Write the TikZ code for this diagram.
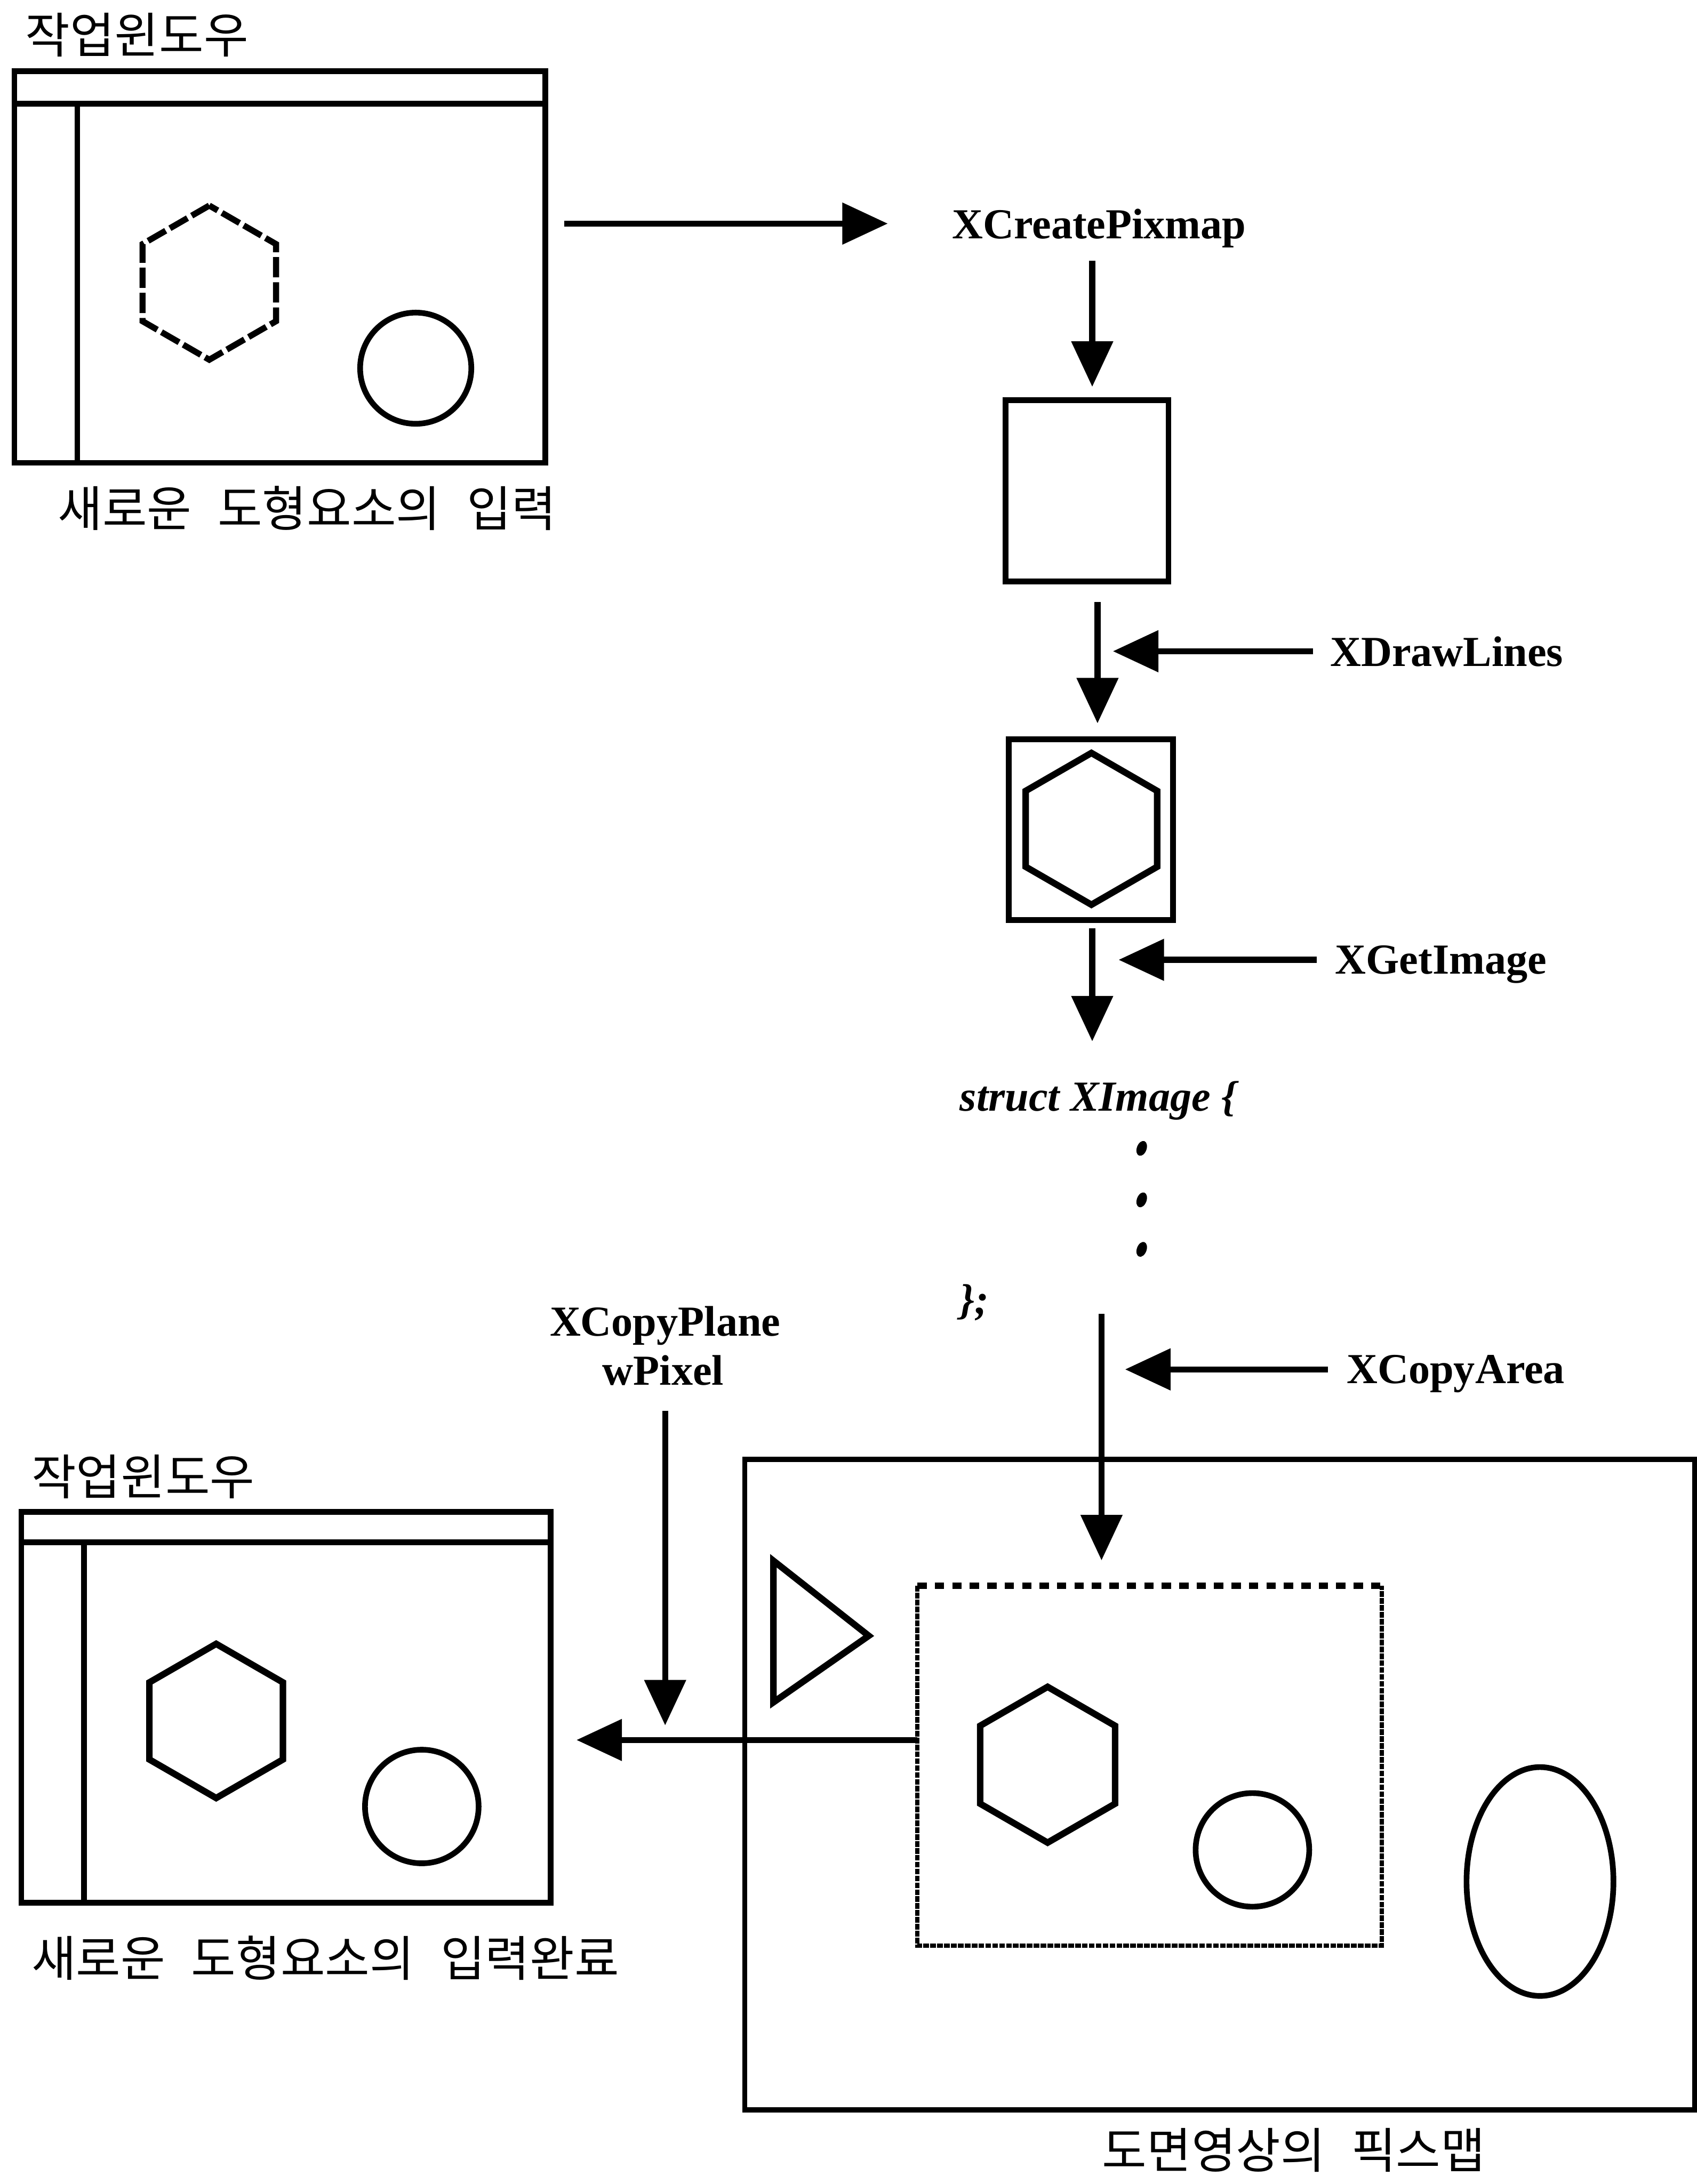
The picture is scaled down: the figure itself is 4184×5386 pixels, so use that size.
\documentclass[tikz,border=0pt]{standalone}
\usepackage{fontspec}
\setmainfont{Liberation Serif}
\newfontfamily\krfont[WordSpace=2.4]{Noto Sans CJK KR}
\usetikzlibrary{arrows.meta,shapes.geometric}

\newcommand{\fnfont}{\bfseries\fontsize{30}{36}\selectfont}
\newcommand{\itfont}{\bfseries\itshape\fontsize{30}{36}\selectfont}

\tikzset{
  arr/.style={-{Triangle[length=1.12cm,width=1cm]}, line width=0.15cm},
  win/.style={draw, rectangle, line width=0.14cm, inner sep=0pt},
  hexa/.style={draw, regular polygon, regular polygon sides=6, shape border rotate=30,
    minimum size=3.8cm, inner sep=0pt, line width=0.16cm},
  ring/.style={draw, circle, line width=0.14cm, inner sep=0pt},
  fn/.style={inner sep=0pt, text depth=0pt, font=\fnfont},
  kr/.style={inner sep=0pt, font=\krfont\fontsize{34}{40}\selectfont},
  dotmark/.style={fill, ellipse, rotate=-20, inner sep=0pt, minimum width=0.24cm, minimum height=0.38cm},
}

\begin{document}
\begin{tikzpicture}[x=0.01cm, y=-0.01cm]
\useasboundingbox (0,0) rectangle (4184,5386);

% work window, new element being entered
\node (title1) [kr, anchor=west] at (62,86) {작업윈도우};
\node (win1) [win, minimum width=13.08cm, minimum height=9.65cm] at (690,658.5) {};
\draw[line width=0.14cm] ([yshift=-0.87cm]win1.north west) -- ([yshift=-0.87cm]win1.north east);
\draw[line width=0.14cm] ([xshift=1.62cm,yshift=-0.87cm]win1.north west) -- ([xshift=1.62cm]win1.south west);
\node (hexin) [hexa, line width=0.15cm, dash pattern=on 0.5cm off 0.12cm] at (516,697) {};
\node (cirin) [ring, minimum size=2.74cm] at (1025,908) {};
\node (cap1) [kr, anchor=west] at (142,1253) {새로운 도형요소의 입력};

% pixmap steps
\node (pixmap) [fn, anchor=base] at (2710,588) {XCreatePixmap};
\node (box1) [win, minimum width=4.02cm, minimum height=4.47cm] at (2680,1210.5) {};
\node (drawl) [fn, anchor=west] at (3279,1606) {XDrawLines};
\node (box2) [win, minimum width=4.05cm, minimum height=4.46cm] at (2689.5,2046) {};
\node (hexpix) [hexa, minimum size=3.74cm] at (2691,2044) {};
\node (getim) [fn, anchor=west] at (3291,2367) {XGetImage};
\node (xstruct) [fn, font=\itfont, anchor=base west] at (2366,2739) {struct XImage \{};
\foreach \y [count=\i] in {2832,2959,3081}
  \node (dot\i) [dotmark] at (2815,\y) {};
\node (xclose) [fn, font=\itfont, anchor=base west] at (2366,3240) {\};};
\node (copya) [fn, anchor=west] at (3320,3377) {XCopyArea};

% drawing pixmap
\node (pixmapbig) [win, line width=0.13cm, minimum width=23.41cm, minimum height=16.04cm] at (3007.5,4401) {};
\draw[line width=0.16cm] (1907,3849) -- (1907,4198) -- (2142,4034) -- cycle;
\node (dotted) [inner sep=0pt, minimum width=11.43cm, minimum height=8.85cm] at (2834.5,4354.5) {};
\draw[line width=0.1cm, dash pattern=on 0.14cm off 0.03cm] (dotted.north west) -- (dotted.south west) -- (dotted.south east) -- (dotted.north east);
\draw[line width=0.16cm, dash pattern=on 0.23cm off 0.2cm] (dotted.north west) -- (dotted.north east);
\node (hexbig) [hexa, minimum size=3.84cm] at (2583,4352) {};
\node (cirbig) [ring, minimum size=2.8cm] at (3088,4562) {};
\node (oval) [draw, ellipse, line width=0.14cm, inner sep=0pt, minimum width=3.62cm, minimum height=5.64cm] at (3797,4640) {};
\node (pmcap) [kr] at (3190,5303) {도면영상의 픽스맵};

% work window, element entered
\node (copyp) [fn, anchor=base] at (1640,3295) {XCopyPlane};
\node (wpix) [fn, anchor=base] at (1635,3415) {wPixel};
\node (title2) [kr, anchor=west] at (77,3641) {작업윈도우};
\node (win2) [win, minimum width=13.04cm, minimum height=9.63cm] at (705,4210.5) {};
\draw[line width=0.14cm] ([yshift=-0.82cm]win2.north west) -- ([yshift=-0.82cm]win2.north east);
\draw[line width=0.14cm] ([xshift=1.61cm,yshift=-0.82cm]win2.north west) -- ([xshift=1.61cm]win2.south west);
\node (hexout) [hexa] at (533,4244) {};
\node (cirout) [ring, minimum size=2.8cm] at (1040,4455) {};
\node (cap2) [kr, anchor=west] at (77,4829) {새로운 도형요소의 입력완료};

% arrows
\draw[arr, shorten <=0.4cm, shorten >=1.58cm] (win1.east |- pixmap.west) -- (pixmap.west);
\draw[arr, shorten <=0.54cm, shorten >=0.26cm] ([xshift=0.13cm]box1.north |- pixmap.south) -- ([xshift=0.13cm]box1.north);
\draw[arr, shorten <=0.44cm, shorten >=0.32cm] ([xshift=0.26cm]box1.south) -- ([xshift=0.26cm]box1.south |- box2.north);
\draw[arr, shorten <=0.41cm, shorten >=0.64cm] (drawl.west) -- (drawl.west -| box1.south);
\draw[arr, shorten <=0.13cm, shorten >=0.97cm] ([xshift=0.035cm]box2.south) -- ([xshift=0.035cm]box2.south |- xstruct.north);
\draw[arr, shorten <=0.45cm, shorten >=0.685cm] (getim.west) -- (getim.west -| box2.south);
\draw[arr, shorten >=0.63cm] ([xshift=-1.185cm]dotted.north |- xclose.base) -- ([xshift=-1.185cm]dotted.north);
\draw[arr, shorten <=0.46cm, shorten >=0.845cm] (copya.west) -- (copya.west -| box2.south);
\coordinate (cpy) at ([yshift=0.635cm]dotted.west);
\draw[arr, shorten >=0.57cm] (cpy) -- (cpy -| win2.east);
\draw[arr, shorten <=0.63cm, shorten >=0.36cm] ([xshift=0.05cm]wpix.south) -- ([xshift=0.05cm]wpix.south |- cpy);
\end{tikzpicture}
\end{document}
